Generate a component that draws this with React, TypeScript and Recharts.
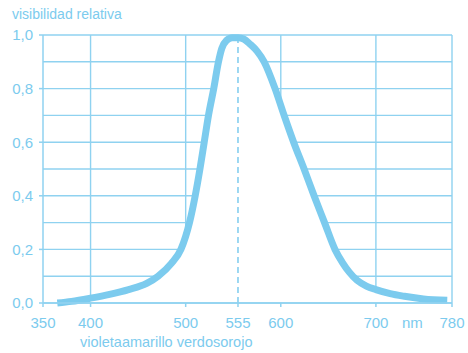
import React from "react";
import {
  Area,
  CartesianGrid,
  ComposedChart,
  ReferenceLine,
  XAxis,
  YAxis,
} from "recharts";

const BLUE = "#7ccbee";
const GRID = "#8fd2f0";

// wavelength (nm) and relative visibility
const wavelengths = [
  365, 380, 400, 420, 440, 459, 471, 485, 495, 504, 510, 515, 519.5, 524,
  529.5, 534.5, 538, 543, 549, 555, 561, 568, 575, 582.5, 594, 603.5, 613.5,
  624.5, 635, 646, 657, 665, 672, 680, 690, 700, 715, 730, 750, 775,
];
const visibility = [
  0, 0.006, 0.018, 0.032, 0.05, 0.073, 0.1, 0.148, 0.2, 0.3, 0.4, 0.5, 0.6,
  0.7, 0.8, 0.9, 0.95, 0.98, 0.99, 0.99, 0.985, 0.965, 0.94, 0.9, 0.8, 0.7,
  0.6, 0.5, 0.4, 0.3, 0.2, 0.15, 0.115, 0.085, 0.063, 0.05, 0.035, 0.025,
  0.015, 0.01,
];

const xTicks = [350, 400, 500, 555, 600, 700, 780];
const yTicks = [0, 0.2, 0.4, 0.6, 0.8, 1];
const gridY = [0.1, 0.2, 0.3, 0.4, 0.5, 0.6, 0.7, 0.8, 0.9, 1];
const gridX = [400, 500, 600, 700, 780];

const data = wavelengths.map((nm, i) => ({ nm, v: visibility[i] }));

const fmt = (v: number) => v.toFixed(1).replace(".", ",");

export default function App() {
  return (
    <div
      style={{
        position: "relative",
        width: 468,
        height: 353,
        fontFamily: "'Liberation Sans', Arial, sans-serif",
        color: BLUE,
      }}
    >
      <style>{`body{margin:0}`}</style>
      <ComposedChart
        width={468}
        height={353}
        data={data}
        margin={{ top: 35, right: 16, left: 0, bottom: 0 }}
      >
        <CartesianGrid
          stroke={GRID}
          strokeWidth={1.4}
          horizontalValues={gridY}
          verticalValues={gridX}
        />
        <XAxis
          dataKey="nm"
          type="number"
          domain={[350, 780]}
          ticks={xTicks}
          height={50}
          tickSize={4}
          tickMargin={10}
          axisLine={{ stroke: GRID, strokeWidth: 1.5 }}
          tickLine={{ stroke: GRID, strokeWidth: 1.5 }}
          tick={{ fill: BLUE, fontSize: 15 }}
        />
        <YAxis
          domain={[0, 1]}
          ticks={yTicks}
          width={43}
          tickSize={4}
          tickMargin={6}
          tickFormatter={fmt}
          axisLine={{ stroke: GRID, strokeWidth: 1.5 }}
          tickLine={{ stroke: GRID, strokeWidth: 1.5 }}
          tick={{ fill: BLUE, fontSize: 15 }}
        />
        <Area
          dataKey="v"
          type="monotone"
          fill="#ffffff"
          fillOpacity={1}
          stroke={BLUE}
          strokeWidth={7}
          isAnimationActive={false}
          dot={false}
          activeDot={false}
        />
        <ReferenceLine
          x={555}
          stroke={BLUE}
          strokeWidth={1.5}
          strokeDasharray="6 4"
        />
        <ReferenceLine y={0} stroke={GRID} strokeWidth={1.5} />
      </ComposedChart>
      <span
        style={{ position: "absolute", left: 12, top: 6, fontSize: 14 }}
      >
        visibilidad relativa
      </span>
      <span
        style={{ position: "absolute", left: 402, top: 314, fontSize: 15 }}
      >
        nm
      </span>
      <span
        style={{ position: "absolute", left: 80, top: 334, fontSize: 14.5 }}
      >
        violetaamarillo verdosorojo
      </span>
    </div>
  );
}
